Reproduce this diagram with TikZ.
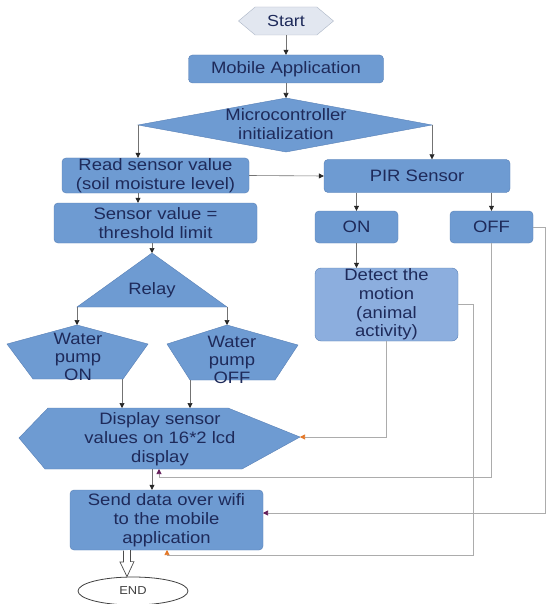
\documentclass[tikz,border=0pt]{standalone}
\usepackage{fontspec}
\setmainfont{Liberation Sans}[FakeStretch=1.12]
\usetikzlibrary{shapes.symbols,shapes.geometric,arrows.meta}
\definecolor{boxfill}{RGB}{110,155,210}
\definecolor{boxline}{RGB}{88,128,182}
\definecolor{lightfill}{RGB}{140,174,222}
\definecolor{startfill}{RGB}{226,231,240}
\definecolor{startline}{RGB}{172,182,198}
\definecolor{txt}{RGB}{30,42,90}
\definecolor{wire}{RGB}{115,115,115}
\definecolor{loopwire}{RGB}{172,172,172}
\definecolor{orangetip}{RGB}{228,120,40}
\definecolor{purpletip}{RGB}{100,30,90}
\tikzset{
  txtfont/.style={font=\fontsize{16.5}{18.8}\selectfont},
  box/.style={draw=boxline, fill=boxfill, rounded corners=4pt, text=txt, align=center, txtfont, inner sep=0pt},
  shapefill/.style={draw=boxline, fill=boxfill},
  lbl/.style={text=txt, align=center, txtfont, inner sep=0pt},
  flow/.style={draw=wire, line width=0.6pt, -{Triangle[length=5pt,width=5pt,color=black!85]}},
  loopo/.style={draw=loopwire, line width=0.6pt, -{Triangle[length=5pt,width=5pt,color=orangetip]}},
  loopp/.style={draw=loopwire, line width=0.6pt, -{Triangle[length=5pt,width=5pt,color=purpletip]}},
  hollow/.style={draw=black!70, fill=white, line width=0.7pt, line join=miter},
}
\begin{document}
\begin{tikzpicture}[x=1pt,y=-1pt]
\useasboundingbox[fill=white] (0,0) rectangle (546,604);

% Start
\node[draw=startline, fill=startfill, signal, signal to=east and west, signal pointer angle=80,
      minimum width=95pt, minimum height=28pt, inner sep=0pt, text=txt, font=\fontsize{16}{18}\selectfont]
      (start) at (286,21) {Start};
\node[box, minimum width=195pt, minimum height=28pt] (mobile) at (286,69) {Mobile Application};

% Microcontroller diamond
\coordinate (mcT) at (286,98);
\coordinate (mcR) at (432,125);
\coordinate (mcB) at (286,152);
\coordinate (mcL) at (138,125);
\filldraw[shapefill] (mcT) -- (mcR) -- (mcB) -- (mcL) -- cycle;
\node[lbl] (micro) at (286,124) {Microcontroller\\initialization};

\draw[flow] (start.south) -- (mobile.north);
\draw[flow] (mobile.south) -- (mcT);

% second row
\node[box, minimum width=187pt, minimum height=35pt] (read) at (155.5,175.5) {Read sensor value\\(soil moisture level)};
\node[box, minimum width=186pt, minimum height=33pt] (pir) at (417,176) {PIR Sensor};
\draw[flow] (mcL) -- (mcL |- read.north);
\draw[flow] (mcR) -- (mcR |- pir.north);
\draw[flow] (read.east) -- (pir.west);

\node[box, minimum width=203pt, minimum height=40pt] (sensor) at (155.5,223) {Sensor value =\\threshold limit};
\draw[flow] (mcL |- read.south) -- (mcL |- sensor.north);

% Relay triangle
\coordinate (rT) at (152,253);
\coordinate (rL) at (77,307);
\coordinate (rR) at (227,307);
\filldraw[shapefill] (rT) -- (rR) -- (rL) -- cycle;
\node[lbl] (relay) at (152,290) {Relay};
\draw[flow] (rT |- sensor.south) -- (rT);

% Water pumps
\coordinate (pAT) at (77,325);
\coordinate (pAout) at (122,379);
\filldraw[shapefill] (pAT) -- (148,344) -- (123,379) -- (33,379) -- (7,344) -- cycle;
\node[lbl, font=\fontsize{16.5}{18}\selectfont] (pumpon) at (78,357) {Water\\pump\\ON};
\coordinate (pBT) at (227,325);
\coordinate (pBout) at (190,380);
\filldraw[shapefill] (pBT) -- (298,345) -- (275,380) -- (190,380) -- (167,344) -- cycle;
\node[lbl, font=\fontsize{16.5}{18}\selectfont] (pumpoff) at (232,360) {Water\\pump\\OFF};
\draw[flow] (rL) -- (pAT);
\draw[flow] (rR) -- (pBT);

% Display hexagon
\coordinate (dL) at (19,438);
\coordinate (dTL) at (48,408);
\coordinate (dTR) at (228,408);
\coordinate (dR) at (300,437);
\coordinate (dBR) at (242,469);
\coordinate (dBL) at (45,469);
\filldraw[shapefill] (dL) -- (dTL) -- (dTR) -- (dR) -- (dBR) -- (dBL) -- cycle;
\node[lbl, font=\fontsize{16.5}{19}\selectfont] (display) at (160,439) {Display sensor\\values on 16*2 lcd\\display};
\draw[flow] (pAout) -- (pAout |- dTL);
\draw[flow] (pBout) -- (pBout |- dTL);

% Send data
\node[box, minimum width=193pt, minimum height=60pt, font=\fontsize{16.5}{19}\selectfont] (send) at (166.5,520) {Send data over wifi\\to the mobile\\application};
\coordinate (dOut) at (152,469);
\draw[flow] (dOut) -- (dOut |- send.north);

% END
\node[draw=black!75, fill=white, ellipse, line width=0.8pt, minimum width=110pt, minimum height=28pt, inner sep=0pt,
      text=black!75, font=\fontsize{11.5}{13}\selectfont] (end) at (133,591) {END};
\coordinate (sOut) at (127,550.5);
\draw[hollow] (sOut) ++(-3.5,0) -- ++(0,11.5) -- ++(-3.5,0) -- (sOut |- end.north) -- ++(7,-15) -- ++(-3.5,0) -- ++(0,-11.5);

% PIR branch
\node[box, minimum width=83pt, minimum height=32pt] (on) at (356.5,227) {ON};
\node[box, minimum width=83pt, minimum height=32pt] (off) at (491.5,227) {OFF};
\draw[flow] (on.north |- pir.south) -- (on.north);
\draw[flow] (off.north |- pir.south) -- (off.north);
\node[box, fill=lightfill, minimum width=143pt, minimum height=73pt, rounded corners=6pt,
      font=\fontsize{16.5}{18.6}\selectfont] (detect) at (386.5,304.5) {Detect the\\motion\\(animal\\activity)};
\draw[flow] (on.south) -- (on.south |- detect.north);

% loops
\draw[loopo] (detect.south) -- (detect.south |- dR) -- (dR);
\coordinate (dIn) at (159,469);
\coordinate (offturn) at (159,477);
\draw[loopp] (off.south) |- (offturn) -- (dIn);
\coordinate (rail) at (545,400);
\coordinate (sendR) at (263,513);
\draw[loopp] (off.east) -| (rail) |- (sendR);
\coordinate (dtrail) at (473,555);
\coordinate (sIn) at (167,550);
\draw[loopo] (detect.east) -| (dtrail) -- (sIn |- dtrail) -- (sIn);
\end{tikzpicture}
\end{document}
